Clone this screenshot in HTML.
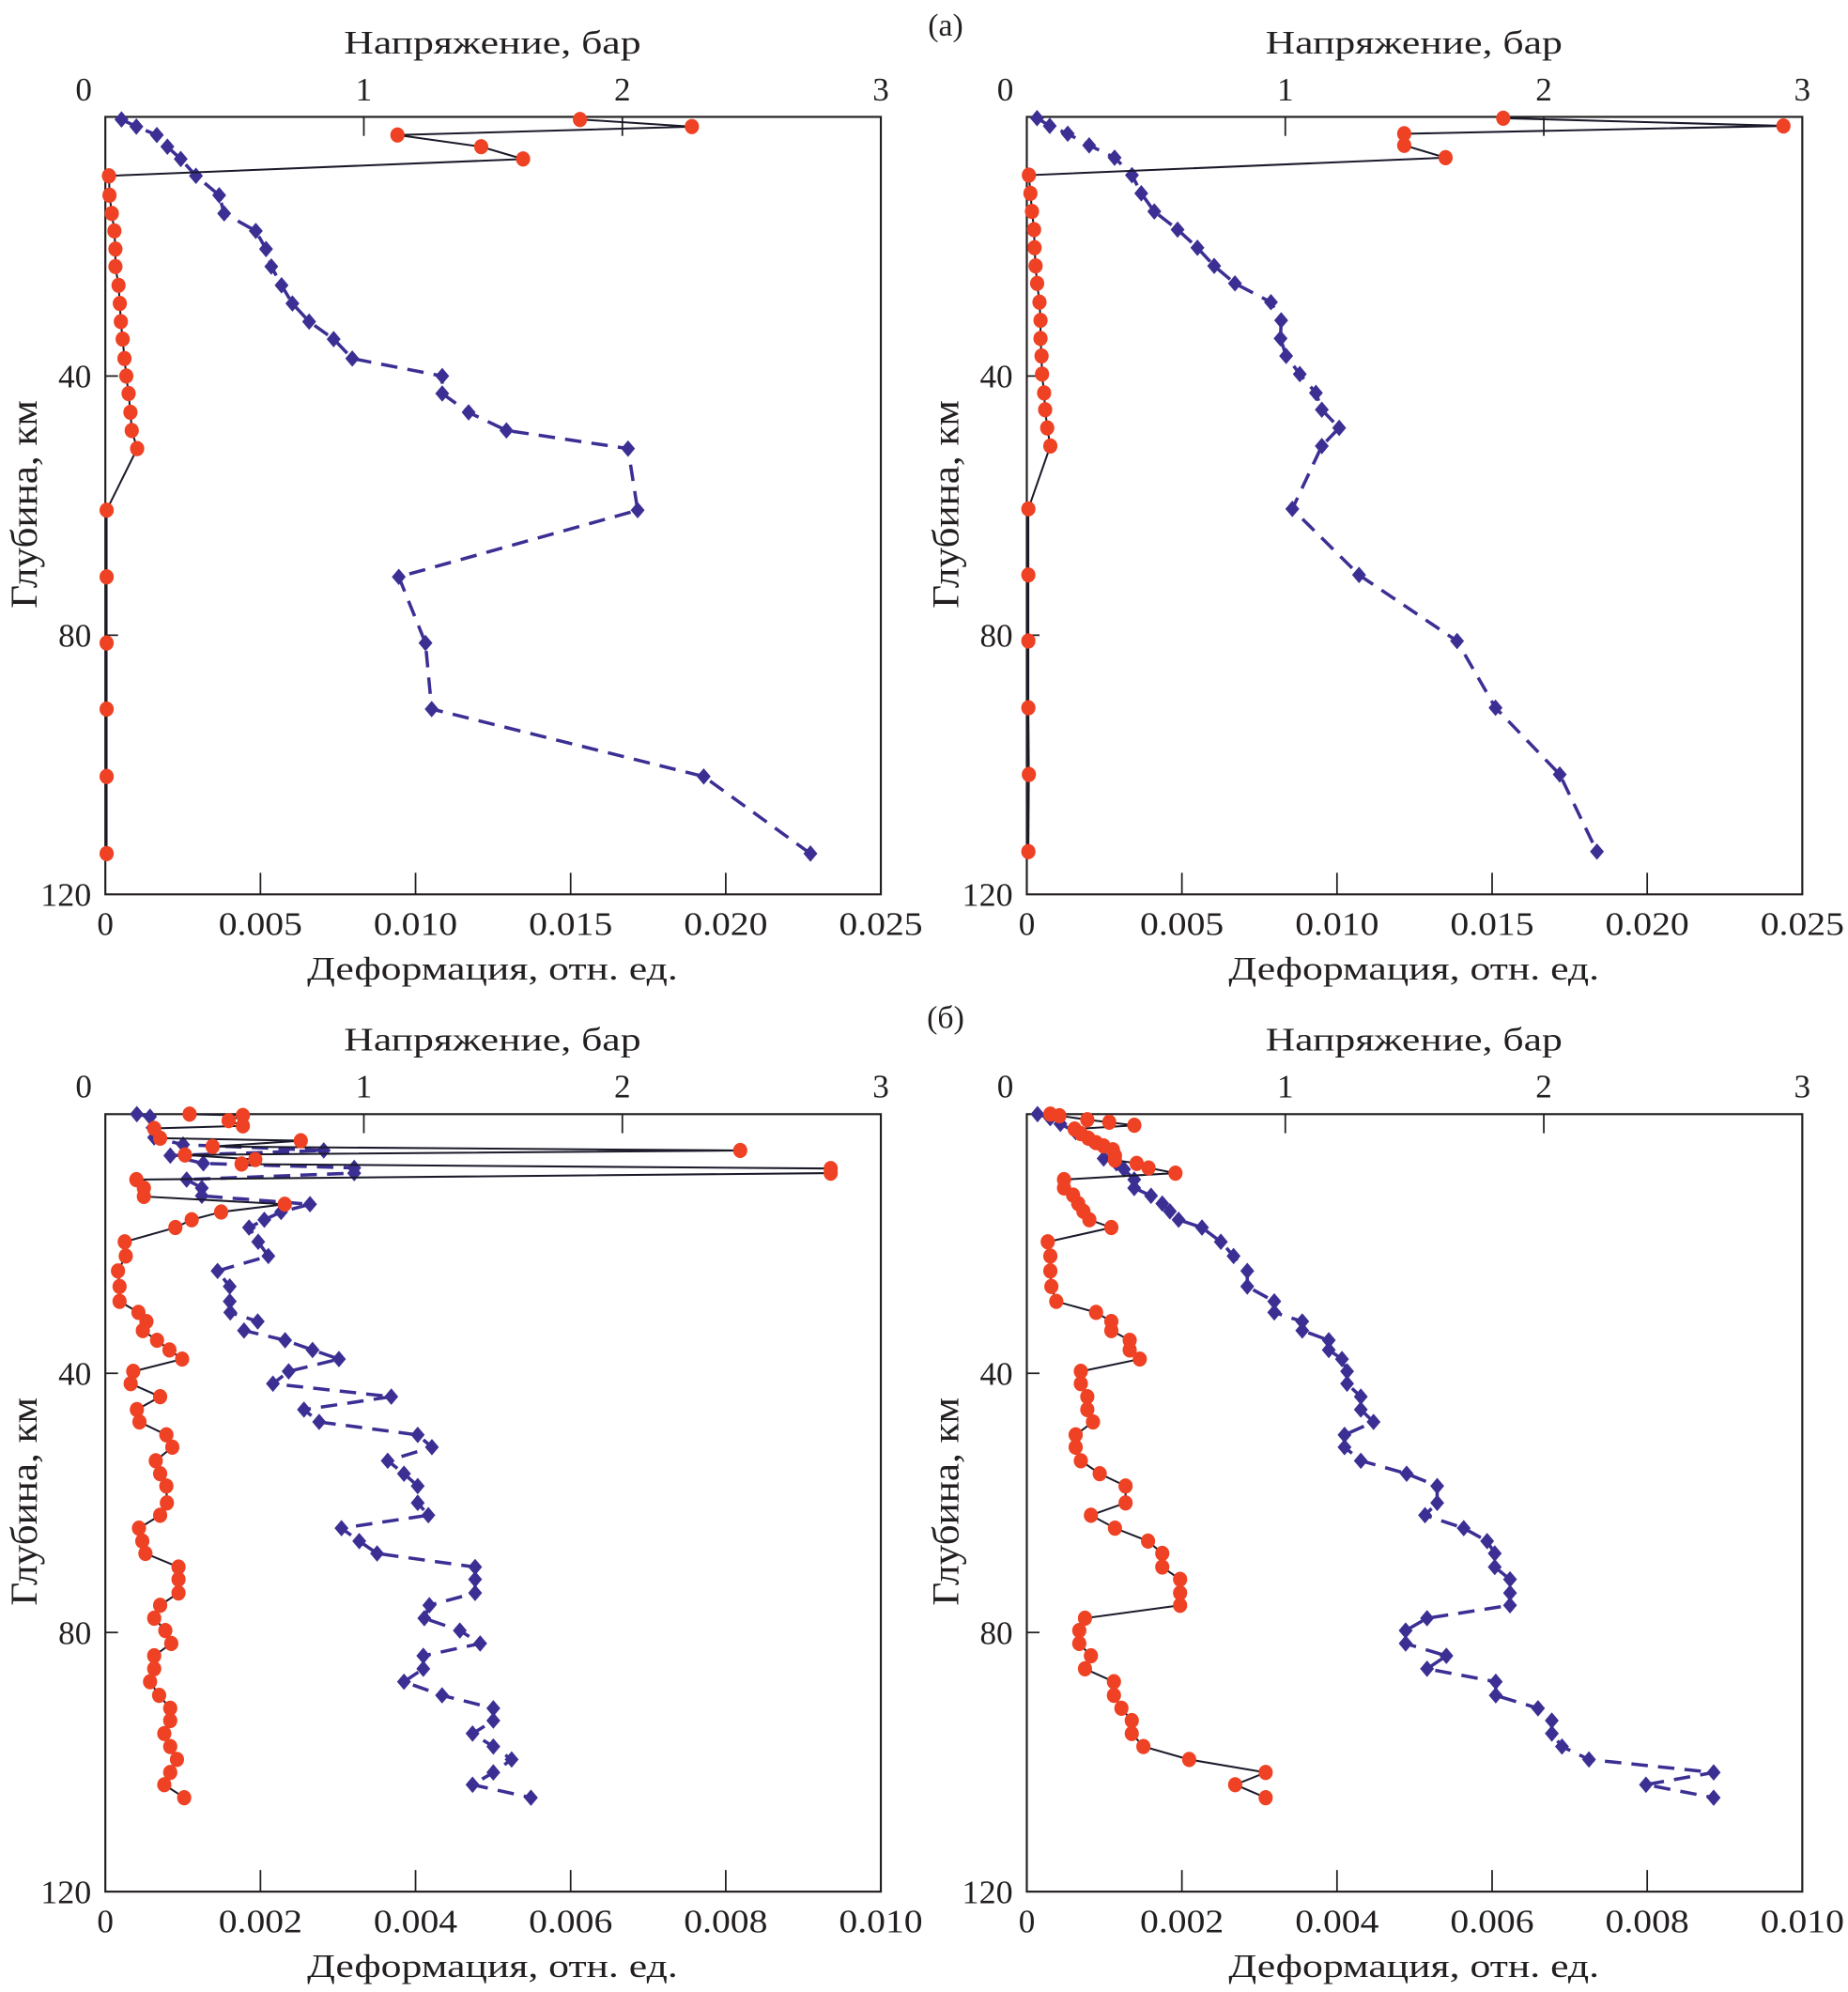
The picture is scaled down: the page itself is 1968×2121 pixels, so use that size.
<!DOCTYPE html>
<html><head><meta charset="utf-8"><style>
html,body{margin:0;padding:0;background:#fff}
svg{display:block}
text{font-family:"Liberation Serif",serif;fill:#231f20}
</style></head><body>
<svg id="fig" width="1968" height="2121" viewBox="0 0 1456 1568" preserveAspectRatio="none" xmlns="http://www.w3.org/2000/svg">
<text x="745" y="28" font-size="25" text-anchor="middle">(а)</text>
<text x="745" y="809" font-size="25" text-anchor="middle">(б)</text>
</svg>
<script>
// ---- Panel A left ----
const aLeftDepth = [0.4,1.5,2.8,4.6,6.5,9.1,12.1,14.9,17.6,20.4,23.1,26,28.8,31.6,34.3,37.3,40,42.7,45.6,48.4,51.2,60.7,71,81.2,91.4,101.8,113.7];
const aLeftStress = [1.836,2.269,1.13,1.454,1.616,0.014,0.016,0.025,0.035,0.039,0.039,0.051,0.056,0.060,0.067,0.074,0.081,0.090,0.097,0.102,0.123,0.005,0.005,0.005,0.005,0.005,0.005];
const aLeftStrain = [0.00052,0.0010,0.00166,0.0020,0.00243,0.00292,0.00367,0.00383,0.00485,0.00518,0.00535,0.00568,0.00603,0.00657,0.00736,0.00796,0.01086,0.01086,0.01171,0.01293,0.01685,0.01716,0.00946,0.01032,0.01052,0.01929,0.02273];
// ---- Panel A right ----
const aRightDepth = [0.2,1.4,2.6,4.4,6.3,9,11.8,14.6,17.4,20.2,23,25.7,28.6,31.4,34.2,36.9,39.7,42.6,45.2,48,50.8,60.5,70.7,80.9,91.2,101.5,113.4];
const aRightStress = [1.843,2.927,1.46,1.46,1.62,0.008,0.014,0.02,0.028,0.03,0.034,0.04,0.049,0.053,0.053,0.057,0.059,0.067,0.071,0.079,0.091,0.006,0.006,0.006,0.006,0.008,0.006];
const aRightStrain = [0.00033,0.00074,0.00132,0.00201,0.00283,0.00339,0.00369,0.00411,0.00486,0.0055,0.00604,0.00671,0.00787,0.0082,0.00818,0.00836,0.0088,0.00932,0.00951,0.01007,0.00951,0.00856,0.01071,0.01387,0.01511,0.01718,0.01838];
// ---- Panel B left ----
const bLeftStressDepth = [0,0.2,1,1.8,2.2,3.7,4.1,5,5.6,6.3,7,7.7,8.4,9.1,10.1,11.4,12.7,13.9,15.1,16.3,17.5,19.7,21.9,24.2,26.6,28.9,30.6,32,33.4,34.9,36.4,37.8,39.7,41.6,43.6,45.6,47.5,49.5,51.4,53.5,55.5,57.4,60.0,61.9,63.9,65.9,67.8,69.9,71.8,73.9,75.8,77.8,79.7,81.7,83.6,85.6,87.6,89.7,91.7,93.6,95.6,97.6,99.6,101.6,103.5,105.5];
const bLeftStress = [0.326,0.532,0.477,0.532,0.189,0.212,0.756,0.415,2.456,0.308,0.580,0.527,2.806,2.806,0.120,0.149,0.149,0.694,0.448,0.334,0.271,0.075,0.079,0.049,0.055,0.055,0.128,0.159,0.145,0.200,0.248,0.297,0.108,0.098,0.212,0.122,0.132,0.236,0.259,0.195,0.212,0.236,0.238,0.212,0.130,0.143,0.155,0.283,0.283,0.283,0.212,0.189,0.232,0.255,0.189,0.189,0.173,0.208,0.251,0.251,0.228,0.251,0.277,0.251,0.228,0.305];
const bLeftStrainDepth = [0,0.4,2.1,3.6,4.7,5.6,6.4,7.6,8.3,9.1,10.1,11.4,12.6,13.9,15.1,16.3,17.5,19.7,21.9,24.2,26.6,28.9,30.6,32,33.4,34.9,36.4,37.8,39.7,41.6,43.6,45.6,47.5,49.5,51.4,53.5,55.5,57.4,60.0,61.9,63.9,65.9,67.8,69.9,71.8,73.9,75.8,77.8,79.7,81.7,83.6,85.6,87.6,89.7,91.7,93.6,95.6,97.6,99.6,101.6,103.5,105.5];
const bLeftStrain = [0.406,0.576,0.609,0.629,1.002,2.816,0.838,1.264,3.209,3.209,1.048,1.244,1.244,2.639,2.266,2.050,1.853,1.971,2.102,1.447,1.604,1.604,1.611,1.965,1.788,2.318,2.672,3.012,2.364,2.161,3.687,2.561,2.757,4.028,4.211,3.641,3.851,4.028,4.028,4.165,3.045,3.274,3.504,4.768,4.768,4.768,4.178,4.113,4.571,4.833,4.100,4.100,3.851,4.342,5.003,5.003,4.735,5.003,5.239,5.003,4.735,5.488].map(v=>v/1000);
// ---- Panel B right ----
const bRightStressDepth = [0,0.24,0.86,1.25,1.72,2.3,3.0,3.7,4.4,4.9,5.5,6.4,7.1,7.6,8.3,9.1,10.1,11.4,12.5,13.8,15.0,16.3,17.5,19.7,21.9,24.2,26.6,28.9,30.6,32.0,33.4,34.9,36.4,37.8,39.7,41.6,43.6,45.6,47.5,49.5,51.4,53.5,55.5,57.4,60.0,61.9,63.9,65.9,67.8,69.9,71.8,73.9,75.8,77.8,79.7,81.7,83.6,85.6,87.6,89.7,91.7,93.6,95.6,97.6,99.6,101.6,103.5,105.5];
const bRightStress = [0.091,0.126,0.234,0.319,0.416,0.185,0.209,0.238,0.268,0.297,0.333,0.341,0.341,0.425,0.471,0.575,0.144,0.144,0.179,0.199,0.219,0.242,0.327,0.081,0.091,0.091,0.095,0.114,0.268,0.327,0.327,0.398,0.398,0.437,0.209,0.209,0.234,0.234,0.256,0.189,0.189,0.209,0.282,0.382,0.382,0.248,0.341,0.469,0.524,0.524,0.593,0.593,0.593,0.225,0.203,0.203,0.248,0.225,0.337,0.337,0.366,0.406,0.406,0.451,0.628,0.924,0.806,0.924];
const bRightStrainDepth = [0,0.62,1.49,2.78,3.98,6.85,7.6,8.5,10.1,11.4,12.6,13.8,15.0,16.3,17.5,19.7,21.9,24.2,26.6,28.9,30.6,32.0,33.4,34.9,36.4,37.8,39.7,41.6,43.6,45.6,47.5,49.5,51.4,53.5,55.5,57.4,60.0,61.9,63.9,65.9,67.8,69.9,71.8,73.9,75.8,77.8,79.7,81.7,83.6,85.6,87.6,89.7,91.7,93.6,95.6,97.6,99.6,101.6,103.5,105.5];
const bRightStrain = [0.138,0.302,0.433,0.630,0.827,0.991,1.156,1.254,1.385,1.385,1.602,1.747,1.845,1.957,2.259,2.502,2.666,2.843,2.843,3.191,3.191,3.552,3.552,3.894,3.894,4.064,4.130,4.130,4.307,4.307,4.471,4.097,4.097,4.307,4.898,5.292,5.292,5.135,5.634,5.936,6.034,6.034,6.231,6.231,6.231,5.161,4.885,4.885,5.410,5.161,6.047,6.047,6.592,6.770,6.770,6.901,7.249,8.857,7.984,8.857].map(v=>v/1000);
// ---- axis tick labels ----
const stressTicks = [0,1,2,3];
const depthTicks = [40,80,120];
const strainTicksA = [0,0.005,0.010,0.015,0.020,0.025];
const strainLabelsA = ["0","0.005","0.010","0.015","0.020","0.025"];
const strainTicksB = [0,0.002,0.004,0.006,0.008,0.010];
const strainLabelsB = ["0","0.002","0.004","0.006","0.008","0.010"];

const NS="http://www.w3.org/2000/svg";
const svg=document.getElementById('fig');
function mk(tag,attrs,parent){const e=document.createElementNS(NS,tag);for(const k in attrs)e.setAttribute(k,attrs[k]);(parent||svg).appendChild(e);return e;}
const W=611,H=612,SMAX=3,DMAX=120;

function panel(name,ox,oy,strainMax,sTicks,sLabels,sDepth,stress,eDepth,strain){
  const g=mk('g',{});
  
  
  const xS=v=>ox+v/SMAX*W, xE=v=>ox+v/strainMax*W, yD=d=>oy+d/DMAX*H;
  const fr=mk('rect',{x:ox,y:oy,width:W,height:H,fill:'none',stroke:'#231f20','stroke-width':1.6},g);
  
  
  stressTicks.forEach(t=>{
    if(t>0&&t<SMAX){const l=mk('line',{x1:xS(t),x2:xS(t),y1:oy,y2:oy+15,stroke:'#231f20','stroke-width':1.3},g);
      
      }
    const tx=mk('text',{x:t===0?xS(t)-17:xS(t),y:oy-13,'font-size':26,'text-anchor':'middle'},g);
    
    
    tx.textContent=String(t);
  });
  const tt=mk('text',{x:ox+305,y:oy-50,'font-size':26,'text-anchor':'middle',textLength:234,lengthAdjust:'spacingAndGlyphs'},g);
  
  
  tt.textContent='Напряжение, бар';
  sTicks.forEach((t,i)=>{
    if(i>0&&i<sTicks.length-1){const l=mk('line',{x1:xE(t),x2:xE(t),y1:oy+H,y2:oy+H-17,stroke:'#231f20','stroke-width':1.3},g);
      
      }
    const tx=mk('text',{x:xE(t),y:oy+H+32,'font-size':26,'text-anchor':'middle'},g);
    if(i>0){tx.setAttribute('textLength',66);tx.setAttribute('lengthAdjust','spacingAndGlyphs');}
    
    
    tx.textContent=sLabels[i];
  });
  const bt=mk('text',{x:ox+305,y:oy+H+67,'font-size':26,'text-anchor':'middle',textLength:292,lengthAdjust:'spacingAndGlyphs'},g);
  
  
  bt.textContent='Деформация, отн. ед.';
  depthTicks.forEach(t=>{
    if(t<DMAX){const l=mk('line',{x1:ox,x2:ox+10,y1:yD(t),y2:yD(t),stroke:'#231f20','stroke-width':1.3},g);
      
      }
    const tx=mk('text',{x:ox-11,y:yD(t)+9,'font-size':26,'text-anchor':'end'},g);
    if(t===120){tx.setAttribute('textLength',40);tx.setAttribute('lengthAdjust','spacingAndGlyphs');}
    
    
    tx.textContent=String(t);
  });
  const yt=mk('text',{x:0,y:0,'font-size':30,'text-anchor':'middle',textLength:164,lengthAdjust:'spacingAndGlyphs',transform:`translate(${ox-54},${oy+305}) rotate(-90)`},g);
  
  
  yt.textContent='Глубина, км';
  const ep=strain.map((v,i)=>xE(v).toFixed(1)+','+yD(eDepth[i]).toFixed(1)).join(' ');
  const el=mk('polyline',{points:ep,fill:'none',stroke:'#3b2f94','stroke-width':2.6,'stroke-dasharray':'13,8'},g);
  
  
  strain.forEach((v,i)=>{
    const x=xE(v),y=yD(eDepth[i]),r=5.5;
    const p=mk('polygon',{points:`${x},${y-r-1} ${x+r},${y} ${x},${y+r+1} ${x-r},${y}`,fill:'#3b2f94'},g);
    
    
  });
  const sp=stress.map((v,i)=>xS(v).toFixed(1)+','+yD(sDepth[i]).toFixed(1)).join(' ');
  const sl=mk('polyline',{points:sp,fill:'none',stroke:'#1a1a2a','stroke-width':1.5},g);
  
  
  stress.forEach((v,i)=>{
    const c=mk('ellipse',{cx:xS(v),cy:yD(sDepth[i]),rx:5.6,ry:6,fill:'#ef4123'},g);
    
    
  });
}
panel('panel-a-left',83,92,0.025,strainTicksA,strainLabelsA,aLeftDepth,aLeftStress,aLeftDepth,aLeftStrain);
panel('panel-a-right',809,92,0.025,strainTicksA,strainLabelsA,aRightDepth,aRightStress,aRightDepth,aRightStrain);
panel('panel-b-left',83,877,0.010,strainTicksB,strainLabelsB,bLeftStressDepth,bLeftStress,bLeftStrainDepth,bLeftStrain);
panel('panel-b-right',809,877,0.010,strainTicksB,strainLabelsB,bRightStressDepth,bRightStress,bRightStrainDepth,bRightStrain);
</script>
</body></html>
